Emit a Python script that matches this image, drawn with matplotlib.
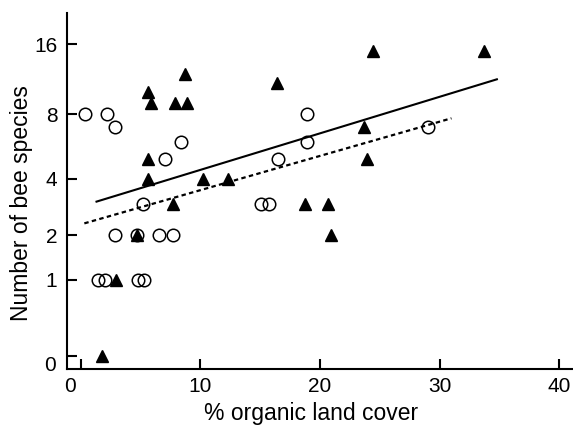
import numpy as np
import matplotlib
matplotlib.use("Agg")
import matplotlib.pyplot as plt

plt.rcParams['font.family'] = ['Liberation Sans', 'DejaVu Sans']

# open circles
x_circ = [0.33, 2.18, 2.85, 7.0, 8.4, 18.9, 18.9, 16.5, 15.1, 15.7, 29.0,
          2.85, 4.66, 6.55, 7.67, 1.45, 2.0, 4.8, 5.27, 5.2]
y_circ = [8, 8, 7, 5, 6, 8, 6, 5, 3, 3, 7,
          2, 2, 2, 2, 1, 1, 1, 1, 3]

# filled triangles
x_tri = [5.58, 5.9, 8.7, 7.9, 8.85, 5.58, 5.63, 10.2, 12.3, 7.67, 24.4,
         33.75, 16.4, 23.7, 23.9, 18.75, 20.7, 20.9, 4.66, 2.9, 1.8]
y_tri = [10, 9, 12, 9, 9, 5, 4, 4, 4, 3, 15,
         15, 11, 7, 5, 3, 3, 2, 2, 1, 0]

# fitted lines (end points)
x_fit_solid = [1.3, 34.8]
y_fit_solid = [3.07, 11.37]
x_fit_dot = [0.28, 31.0]
y_fit_dot = [2.34, 7.68]

y_ticks = [0, 1, 2, 4, 8, 16]
x_ticks = [0, 10, 20, 30, 40]

fig = plt.figure(figsize=(5.73, 4.26), dpi=100)
ax = fig.add_axes([67 / 573, 57 / 426, 506 / 573, 356 / 426])
ax.set_yscale('function', functions=(np.log1p, np.expm1))

ax.plot(x_fit_solid, y_fit_solid, color='black', lw=1.5, zorder=2)
ax.plot(x_fit_dot, y_fit_dot, color='black', lw=1.6, dashes=(2, 1.5), zorder=2)
ax.plot(x_circ, y_circ, 'o', ms=9, mfc='none', mec='black', mew=1.1, zorder=3)
ax.plot(x_tri, y_tri, '^', ms=9, color='black', zorder=4)

ax.set_xlim(-1.17, 41.17)
ax.set_ylim(-0.111, 21.6)

ax.set_yticks(y_ticks)
ax.set_yticklabels([''] + [str(t) for t in y_ticks[1:]])
ax.set_xticks(x_ticks)
ax.set_xticklabels([''] + [str(t) for t in x_ticks[1:]])
ax.minorticks_off()
ax.tick_params(direction='in', length=7, width=1.5, labelsize=15)
ax.tick_params(axis='x', pad=5.8)
ax.tick_params(axis='y', pad=7)

# corner zeros
ax.annotate('0', xy=(-0.92, 0), xycoords=('data', 'axes fraction'),
            xytext=(0, -5.8), textcoords='offset points',
            ha='center', va='top', fontsize=15)
ax.annotate('0', xy=(0, -0.086), xycoords=('axes fraction', 'data'),
            xytext=(-8, 0), textcoords='offset points',
            ha='right', va='center', fontsize=15)

for s in ['top', 'right']:
    ax.spines[s].set_visible(False)
for s in ['left', 'bottom']:
    ax.spines[s].set_linewidth(1.5)

ax.set_xlabel('% organic land cover', fontsize=16.5)
ax.set_ylabel('Number of bee species', fontsize=16.5)
ax.xaxis.set_label_coords(0.483, -0.093)
ax.yaxis.set_label_coords(-0.067, 0.465)

fig.savefig('out.png', dpi=100)
